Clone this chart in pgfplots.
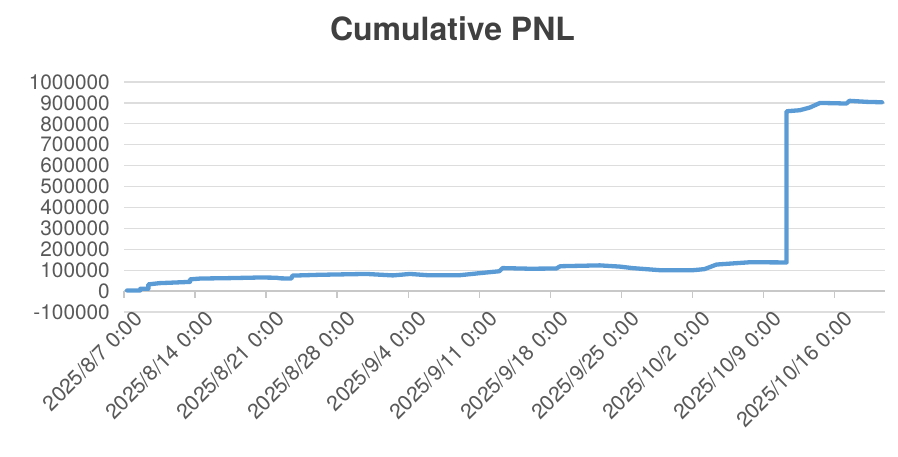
\documentclass[border=0pt]{standalone}
\usepackage{pgfplots}
\pgfplotsset{compat=1.18}
\usepackage{fontspec}
\setmainfont{TeX Gyre Heros}
\definecolor{pnl}{HTML}{5B9BD5}
\definecolor{gridc}{HTML}{DDDDDD}
\definecolor{zeroc}{HTML}{C8C8C8}
\definecolor{txt}{HTML}{595959}
\definecolor{ttl}{HTML}{404040}
\begin{document}
\begin{tikzpicture}[x=1pt,y=1pt]
\useasboundingbox (0,0) rectangle (898,456);
\node[anchor=base, text=ttl, font=\bfseries\fontsize{32}{38}\selectfont] at (452.5,415) {Cumulative PNL};
\begin{axis}[
  at={(124pt,144pt)}, anchor=south west,
  scale only axis, width=761pt, height=230pt,
  xmin=0, xmax=75, ymin=-100000, ymax=1000000,
  axis line style={draw=none},
  major tick length=0pt,
  scaled y ticks=false,
  ytick={-100000,0,100000,200000,300000,400000,500000,600000,700000,800000,900000,1000000},
  yticklabels={-100000,0,100000,200000,300000,400000,500000,600000,700000,800000,900000,1000000},
  xtick={0,7,14,21,28,35,42,49,56,63,70},
  xticklabels={2025/8/7 0:00,2025/8/14 0:00,2025/8/21 0:00,2025/8/28 0:00,2025/9/4 0:00,2025/9/11 0:00,2025/9/18 0:00,2025/9/25 0:00,2025/10/2 0:00,2025/10/9 0:00,2025/10/16 0:00},
  ymajorgrids, grid style={gridc, line width=1.2pt},
  tick label style={text=txt, inner sep=0pt},
  yticklabel style={anchor=east, xshift=-14pt, font=\fontsize{20.8}{24}\selectfont},
  xticklabel style={rotate=45, anchor=north east, xshift=8pt, yshift=-4pt, font=\fontsize{21.2}{24}\selectfont},
  clip=false,
]
\draw[zeroc, line width=1.2pt] (axis cs:0,0) -- (axis cs:75,0);
\pgfplotsinvokeforeach{0,7,14,21,28,35,42,49,56,63,70}{
  \draw[zeroc, line width=1.2pt] (axis cs:#1,0) -- ++(0pt,-7pt);
}
\addplot[pnl, line width=4.3pt, line join=round, line cap=round] coordinates {
(0.3,3000)
(1.6,3000)
(1.6,11000)
(2.4,11000)
(2.4,32000)
(3.5,38000)
(6.5,44000)
(6.5,56000)
(7.5,60000)
(10.4,62000)
(13.4,65000)
(15.0,64000)
(15.4,61000)
(16.5,60000)
(16.6,74000)
(19.3,78000)
(23.9,82000)
(26.5,75000)
(28.2,82000)
(29.9,76000)
(33.1,76000)
(35.1,86000)
(37.0,95000)
(37.3,110000)
(40.0,107000)
(42.6,108000)
(43.0,119000)
(46.9,123000)
(48.9,117000)
(50.1,110000)
(52.8,100000)
(56.1,100000)
(57.2,105000)
(58.4,127000)
(61.7,138000)
(65.3,137000)
(65.3,860000)
(66.6,865000)
(67.6,878000)
(68.6,900000)
(71.2,897000)
(71.5,910000)
(73.2,905000)
(74.7,903000)
};
\end{axis}
\end{tikzpicture}
\end{document}
